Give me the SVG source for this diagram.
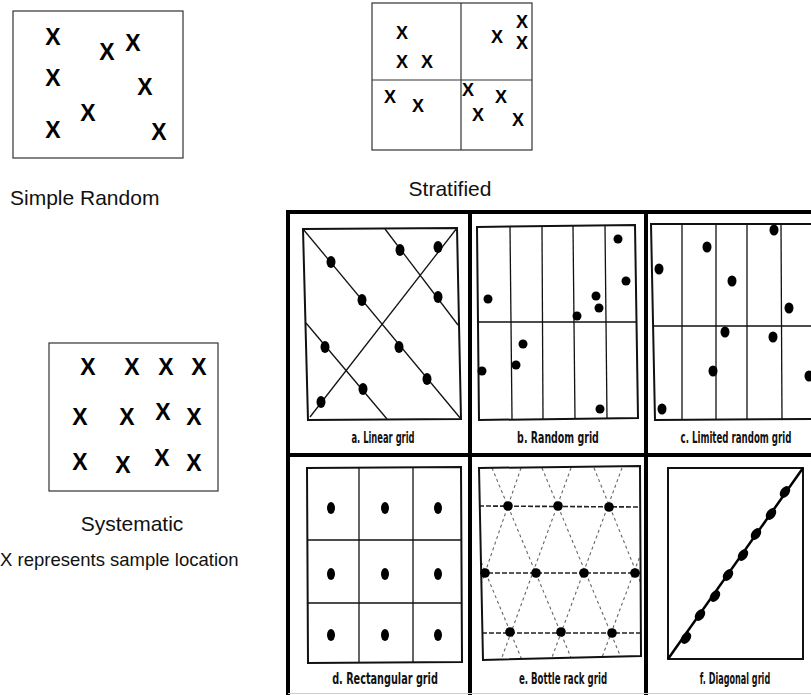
<svg xmlns="http://www.w3.org/2000/svg" width="811" height="695" viewBox="0 0 811 695">
  <style>
    .box { fill: none; stroke: #333; stroke-width: 1.2; }
    .mark { font-family: "Liberation Sans", Arial, sans-serif; font-weight: bold; fill: #000; }
    .big { font-size: 23px; }
    .small { font-size: 18px; }
    .caption { font-family: "Liberation Sans", Arial, sans-serif; font-size: 21px; fill: #111; }
    .note { font-family: "Liberation Sans", Arial, sans-serif; font-size: 18.5px; fill: #111; }
    .frame { stroke: #000; stroke-width: 4; fill: none; }
    .pbox { fill: none; stroke: #111; stroke-width: 2; }
    .gl { stroke: #111; stroke-width: 1.3; fill: none; }
    .dot { fill: #000; }
    .lbl { font-family: "DejaVu Sans Condensed", "DejaVu Sans", sans-serif; font-weight: bold; font-size: 15px; fill: #111; text-anchor: middle; }
    .rack { stroke: #666; stroke-width: 1.1; stroke-dasharray: 3 3; fill: none; }
    .rackh { stroke: #222; stroke-width: 1.6; stroke-dasharray: 5 2; fill: none; }
  </style>
  <defs>
    <clipPath id="clipE">
      <polygon points="479,468 640,466 641,656 483,660"/>
    </clipPath>
  </defs>

  <rect width="811" height="695" fill="#fff"/>

  <!-- simple random sampling -->
  <g id="simple-random">
    <rect class="box" x="13" y="11" width="170" height="147"/>
    <g class="mark big" text-anchor="middle">
      <text x="53" y="45">X</text>
      <text x="107" y="60">X</text>
      <text x="133" y="51">X</text>
      <text x="53" y="86">X</text>
      <text x="145" y="95">X</text>
      <text x="88" y="121">X</text>
      <text x="53" y="138">X</text>
      <text x="159" y="140">X</text>
    </g>
    <text class="caption" x="10" y="205">Simple Random</text>
  </g>

  <!-- stratified sampling -->
  <g id="stratified">
    <rect class="box" x="372" y="3" width="160" height="147"/>
    <line class="box" x1="461" y1="3" x2="461" y2="150"/>
    <line class="box" x1="372" y1="80" x2="532" y2="80"/>
    <g class="mark small" text-anchor="middle">
      <text x="402" y="39">X</text>
      <text x="402" y="68">X</text>
      <text x="427" y="68">X</text>
      <text x="497" y="43">X</text>
      <text x="522" y="28">X</text>
      <text x="522" y="49">X</text>
      <text x="390" y="103">X</text>
      <text x="418" y="112">X</text>
      <text x="468" y="96">X</text>
      <text x="478" y="121">X</text>
      <text x="501" y="103">X</text>
      <text x="518" y="126">X</text>
    </g>
    <text class="caption" x="450" y="196" text-anchor="middle">Stratified</text>
  </g>

  <!-- systematic sampling -->
  <g id="systematic">
    <rect class="box" x="49" y="343" width="169" height="148"/>
    <g class="mark big" text-anchor="middle">
      <text x="88" y="375">X</text>
      <text x="132" y="375">X</text>
      <text x="166" y="375">X</text>
      <text x="199" y="375">X</text>
      <text x="80" y="425">X</text>
      <text x="127" y="425">X</text>
      <text x="163" y="420">X</text>
      <text x="194" y="425">X</text>
      <text x="80" y="470">X</text>
      <text x="123" y="473">X</text>
      <text x="162" y="466">X</text>
      <text x="194" y="471">X</text>
    </g>
    <text class="caption" x="132" y="531" text-anchor="middle">Systematic</text>
  </g>

  <g id="legend">
    <text class="note" x="0" y="566">X represents sample location</text>
  </g>

  <!-- outer frame of the six grid patterns -->
  <g id="grid-frame">
    <path class="frame" d="M288,695 V212 H811"/>
    <line class="frame" x1="470" y1="212" x2="470" y2="695"/>
    <line class="frame" x1="646" y1="212" x2="646" y2="695"/>
    <line class="frame" x1="288" y1="455" x2="811" y2="455"/>
    <line x1="288" y1="693.5" x2="811" y2="693.5" stroke="#ccc" stroke-width="1"/>
  </g>

  <!-- a. linear grid -->
  <g id="linear-grid">
    <polygon class="pbox" points="303,229 457,228 461,419 308,420"/>
    <line class="gl" x1="303" y1="229" x2="461" y2="419"/>
    <line class="gl" x1="310" y1="417" x2="457" y2="228"/>
    <line class="gl" x1="385" y1="229" x2="458" y2="325"/>
    <line class="gl" x1="306" y1="323" x2="387" y2="419"/>
    <g class="dot">
      <ellipse cx="331" cy="262" rx="4.5" ry="6"/>
      <ellipse cx="362" cy="300" rx="4.5" ry="6"/>
      <ellipse cx="399" cy="347" rx="4.5" ry="6"/>
      <ellipse cx="427" cy="379" rx="4.5" ry="6"/>
      <ellipse cx="400" cy="250" rx="4.5" ry="6"/>
      <ellipse cx="438" cy="247" rx="4.5" ry="6"/>
      <ellipse cx="438" cy="297" rx="4.5" ry="6"/>
      <ellipse cx="325" cy="347" rx="4.5" ry="6"/>
      <ellipse cx="363" cy="389" rx="4.5" ry="6"/>
      <ellipse cx="321" cy="402" rx="4.5" ry="6"/>
    </g>
    <text class="lbl" transform="translate(383,443) scale(0.62,1)">a. Linear grid</text>
  </g>

  <!-- b. random grid -->
  <g id="random-grid">
    <polygon class="pbox" points="477,227 635,225 638,418 479,420"/>
    <line class="gl" x1="510" y1="227" x2="512" y2="419"/>
    <line class="gl" x1="542" y1="227" x2="543" y2="419"/>
    <line class="gl" x1="573" y1="226" x2="575" y2="419"/>
    <line class="gl" x1="605" y1="226" x2="607" y2="418"/>
    <line class="gl" x1="478" y1="322" x2="637" y2="322"/>
    <g class="dot">
      <circle cx="618" cy="239" r="4.5"/>
      <circle cx="626" cy="281" r="4.5"/>
      <circle cx="488" cy="299" r="4.5"/>
      <circle cx="596" cy="296" r="4.5"/>
      <circle cx="599" cy="308" r="4.5"/>
      <circle cx="577" cy="316" r="4.5"/>
      <circle cx="523" cy="344" r="4.5"/>
      <circle cx="516" cy="365" r="4.5"/>
      <circle cx="482" cy="371" r="4.5"/>
      <circle cx="600" cy="409" r="4.5"/>
    </g>
    <text class="lbl" transform="translate(558,443) scale(0.7,1)">b. Random grid</text>
  </g>

  <!-- c. limited random grid -->
  <g id="limited-random-grid">
    <polyline class="pbox" points="811,224 651,224 655,420 811,419"/>
    <line class="gl" x1="682" y1="225" x2="682" y2="420"/>
    <line class="gl" x1="716" y1="225" x2="716" y2="420"/>
    <line class="gl" x1="747" y1="225" x2="747" y2="420"/>
    <line class="gl" x1="781" y1="225" x2="782" y2="420"/>
    <line class="gl" x1="653" y1="326" x2="811" y2="326"/>
    <g class="dot">
      <ellipse cx="774" cy="230" rx="4.5" ry="5.5"/>
      <ellipse cx="707" cy="247" rx="4.5" ry="5.5"/>
      <ellipse cx="659" cy="269" rx="4.5" ry="5.5"/>
      <ellipse cx="732" cy="281" rx="4.5" ry="5.5"/>
      <ellipse cx="789" cy="308" rx="4.5" ry="5.5"/>
      <ellipse cx="725" cy="332" rx="4.5" ry="5.5"/>
      <ellipse cx="773" cy="337" rx="4.5" ry="5.5"/>
      <ellipse cx="713" cy="371" rx="4.5" ry="5.5"/>
      <ellipse cx="809" cy="376" rx="4.5" ry="5.5"/>
      <ellipse cx="662" cy="409" rx="4.5" ry="5.5"/>
    </g>
    <text class="lbl" transform="translate(736,443) scale(0.64,1)">c. Limited random grid</text>
  </g>

  <!-- d. rectangular grid -->
  <g id="rectangular-grid">
    <polygon class="pbox" points="307,468 461,467 462,662 308,663"/>
    <line class="gl" x1="359" y1="468" x2="359" y2="663"/>
    <line class="gl" x1="413" y1="467" x2="413" y2="662"/>
    <line class="gl" x1="307" y1="540" x2="461" y2="540"/>
    <line class="gl" x1="308" y1="603" x2="462" y2="603"/>
    <g class="dot">
      <ellipse cx="331" cy="508" rx="4" ry="6"/>
      <ellipse cx="385" cy="508" rx="4" ry="6"/>
      <ellipse cx="438" cy="508" rx="4" ry="6"/>
      <ellipse cx="331" cy="574" rx="4" ry="6"/>
      <ellipse cx="385" cy="574" rx="4" ry="6"/>
      <ellipse cx="438" cy="574" rx="4" ry="6"/>
      <ellipse cx="331" cy="635" rx="4" ry="6"/>
      <ellipse cx="385" cy="635" rx="4" ry="6"/>
      <ellipse cx="438" cy="635" rx="4" ry="6"/>
    </g>
    <text class="lbl" transform="translate(385,684) scale(0.72,1)">d. Rectangular grid</text>
  </g>

  <!-- e. bottle rack grid -->
  <g id="bottle-rack-grid">
    <g clip-path="url(#clipE)">
      <line class="rackh" x1="479" y1="506" x2="641" y2="507"/>
      <line class="rackh" x1="481" y1="573" x2="641" y2="573"/>
      <line class="rackh" x1="482" y1="633" x2="641" y2="633"/>
      <!-- rising diagonals -->
      <line class="rack" x1="521" y1="468" x2="455" y2="660"/>
      <line class="rack" x1="571" y1="468" x2="501" y2="660"/>
      <line class="rack" x1="622" y1="468" x2="551" y2="660"/>
      <line class="rack" x1="673" y1="468" x2="601" y2="660"/>
      <!-- falling diagonals -->
      <line class="rack" x1="492" y1="468" x2="572" y2="660"/>
      <line class="rack" x1="542" y1="468" x2="622" y2="660"/>
      <line class="rack" x1="594" y1="468" x2="672" y2="660"/>
      <line class="rack" x1="442" y1="468" x2="522" y2="660"/>
    </g>
    <polygon class="pbox" points="479,468 640,466 641,656 483,660"/>
    <g class="dot">
      <circle cx="508" cy="506" r="4.8"/>
      <circle cx="558" cy="506" r="4.8"/>
      <circle cx="609" cy="507" r="4.8"/>
      <circle cx="485" cy="573" r="4.8"/>
      <circle cx="536" cy="573" r="4.8"/>
      <circle cx="584" cy="573" r="4.8"/>
      <circle cx="635" cy="573" r="4.8"/>
      <circle cx="510" cy="632" r="4.8"/>
      <circle cx="561" cy="632" r="4.8"/>
      <circle cx="612" cy="633" r="4.8"/>
    </g>
    <text class="lbl" transform="translate(563,684) scale(0.64,1)">e. Bottle rack grid</text>
  </g>

  <!-- f. diagonal grid -->
  <g id="diagonal-grid">
    <rect class="pbox" x="668" y="468" width="135" height="191"/>
    <line x1="668" y1="659" x2="803" y2="468" stroke="#000" stroke-width="2.5"/>
    <g class="dot">
      <ellipse cx="686" cy="638" rx="4.5" ry="6.5" transform="rotate(35 686 638)"/>
      <ellipse cx="700" cy="615" rx="4.5" ry="6.5" transform="rotate(35 700 615)"/>
      <ellipse cx="715" cy="596" rx="4.5" ry="6.5" transform="rotate(35 715 596)"/>
      <ellipse cx="728" cy="575" rx="4.5" ry="6.5" transform="rotate(35 728 575)"/>
      <ellipse cx="743" cy="555" rx="4.5" ry="6.5" transform="rotate(35 743 555)"/>
      <ellipse cx="756" cy="534" rx="4.5" ry="6.5" transform="rotate(35 756 534)"/>
      <ellipse cx="771" cy="514" rx="4.5" ry="6.5" transform="rotate(35 771 514)"/>
      <ellipse cx="785" cy="492" rx="4.5" ry="6.5" transform="rotate(35 785 492)"/>
    </g>
    <text class="lbl" transform="translate(735,684) scale(0.6,1)">f. Diagonal grid</text>
  </g>
</svg>
